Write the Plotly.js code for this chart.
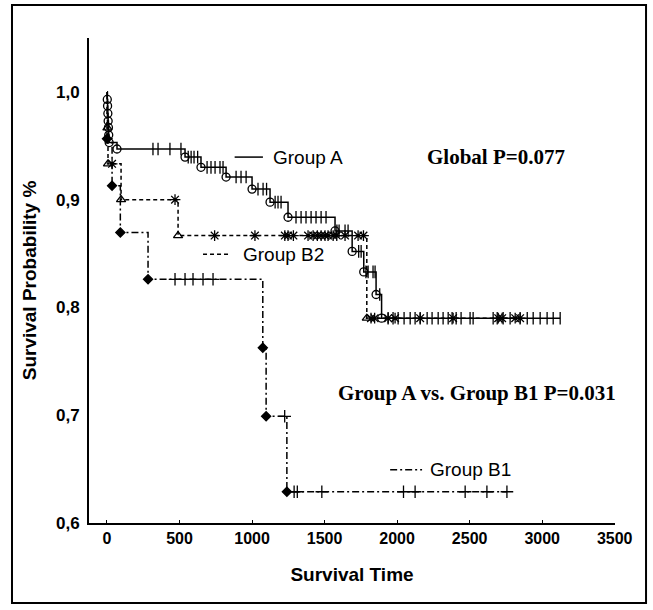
<!DOCTYPE html>
<html>
<head>
<meta charset="utf-8">
<script src="https://cdn.plot.ly/plotly-3.0.1.min.js"></script>
<style>
  html, body { margin: 0; padding: 0; background: #fff; }
  #chart { width: 653px; height: 610px; }
</style>
</head>
<body>
<div id="chart"></div>
<script>
// ---------------- Data ----------------
// Group A: event times / survival after each event, censored times
const groupAEventTimes = [2, 4, 6, 8, 10, 12, 15, 69, 538, 648, 821, 1000, 1124, 1248, 1572, 1690, 1770, 1855, 1893];
const groupAEventSurv  = [0.993, 0.987, 0.980, 0.973, 0.967, 0.960, 0.953, 0.947, 0.9395, 0.930, 0.921, 0.9098, 0.8977, 0.8837, 0.871, 0.852, 0.833, 0.812, 0.790];
const groupACensorTimes = [317, 352, 434, 510, 560, 580, 600, 625, 690, 717, 745, 779, 800, 890, 924, 959,
  1041, 1076, 1100, 1159, 1179, 1200, 1303, 1338, 1372, 1407, 1441, 1476, 1510, 1585, 1600, 1641, 1662,
  1735, 1752, 1785, 1800, 1834, 1848, 1880, 1938, 1972, 2007, 2048, 2090, 2124, 2159, 2207, 2241, 2283,
  2317, 2352, 2379, 2407, 2441, 2503, 2524, 2662, 2690, 2731, 2779, 2848, 2897, 2938, 2986, 3034, 3076, 3124];

// Group B2
const groupB2EventTimes = [3, 7, 97, 490, 1791];
const groupB2EventSurv  = [0.9667, 0.9333, 0.9, 0.8667, 0.79];
const groupB2CensorTimes = [35, 469, 742, 1020, 1226, 1248, 1285, 1386, 1421, 1450, 1476, 1503, 1524, 1559,
  1584, 1641, 1731, 1768, 1820, 1845, 1938, 1986, 2159, 2386, 2697, 2724, 2814, 2848];

// Group B1
const groupB1EventTimes = [0, 35, 92, 283, 1074, 1097, 1240];
const groupB1EventSurv  = [0.9565, 0.913, 0.8696, 0.8261, 0.7626, 0.699, 0.629];
const groupB1CensorTimes = [469, 538, 593, 662, 731, 1225, 1290, 1312, 1481, 2044, 2124, 2469, 2619, 2757];

const xTickVals = [0, 500, 1000, 1500, 2000, 2500, 3000, 3500];
const yTickVals = [0.6, 0.7, 0.8, 0.9, 1.0];

// ---------------- Helpers ----------------
function survAt(t, et, es) {
  let s = 1;
  for (let i = 0; i < et.length; i++) { if (et[i] <= t) s = es[i]; }
  return s;
}
function stepCurve(et, es, ct) {
  const xs = [0], ys = [1];
  for (let i = 0; i < et.length; i++) { xs.push(et[i]); ys.push(es[i]); }
  const tEnd = Math.max(et[et.length - 1], ct[ct.length - 1]);
  xs.push(tEnd); ys.push(es[es.length - 1]);
  return {xs, ys};
}

const groups = [
  {et: groupAEventTimes, es: groupAEventSurv, ct: groupACensorTimes, dash: 'solid',
   ev: 'circle-open', evSize: 8, cs: 'line-ns-open', csSize: 9},
  {et: groupB2EventTimes, es: groupB2EventSurv, ct: groupB2CensorTimes, dash: '4px,3px',
   ev: 'triangle-up-open', evSize: 8, cs: 'asterisk-open', csSize: 9},
  {et: groupB1EventTimes, es: groupB1EventSurv, ct: groupB1CensorTimes, dash: '7px,3px,2px,3px',
   ev: 'diamond', evSize: 7, cs: 'cross-thin-open', csSize: 9}
];

const traces = [];
groups.forEach(g => {
  const c = stepCurve(g.et, g.es, g.ct);
  traces.push({x: c.xs, y: c.ys, mode: 'lines', line: {shape: 'hv', color: '#000', width: 1.5, dash: g.dash},
               hoverinfo: 'skip'});
  traces.push({x: g.et, y: g.es, mode: 'markers',
               marker: {symbol: g.ev, size: g.evSize, color: '#000', line: {color: '#000', width: 1.3}}});
  traces.push({x: g.ct, y: g.ct.map(t => survAt(t, g.et, g.es)), mode: 'markers',
               marker: {symbol: g.cs, size: g.csSize, color: '#000', line: {color: '#000', width: 1.3}}});
});

const sans = 'Liberation Sans, Arial, sans-serif';
const serif = 'Liberation Serif, Times New Roman, serif';

const layout = {
  width: 653, height: 610,
  margin: {l: 89, r: 38, t: 38, b: 87},
  paper_bgcolor: '#fff', plot_bgcolor: '#fff',
  showlegend: false,
  separators: ',.',
  font: {family: sans, color: '#000'},
  xaxis: {
    range: [-124, 3502], tickvals: xTickVals, ticks: 'inside', ticklen: 3, tickwidth: 1, tickcolor: '#000',
    showline: true, linecolor: '#000', linewidth: 2, showgrid: false, zeroline: false,
    tickfont: {family: sans, size: 16, weight: 'bold'}, separatethousands: false,
    title: {text: '<b>Survival Time</b>', font: {family: sans, size: 19}, standoff: 21}
  },
  yaxis: {
    range: [0.6, 1.05], tickvals: yTickVals, tickformat: '.1f', ticks: '',
    showline: true, linecolor: '#000', linewidth: 2, showgrid: false, zeroline: false,
    tickfont: {family: sans, size: 17, weight: 'bold'}, ticklabelstandoff: 4,
    title: {text: '<b>Survival Probability %</b>', font: {family: sans, size: 19}, standoff: 14}
  },
  shapes: [
    {type: 'rect', xref: 'paper', yref: 'paper', x0: -0.1464, x1: 1.059, y0: -0.165, y1: 1.068,
     line: {color: '#000', width: 2}},
    {type: 'line', xref: 'x', yref: 'y', x0: 880, x1: 1075, y0: 0.9395, y1: 0.9395, line: {color: '#000', width: 1.5}},
    {type: 'line', xref: 'x', yref: 'y', x0: 662, x1: 855, y0: 0.8493, y1: 0.8493, line: {color: '#000', width: 1.5, dash: '4px,3px'}},
    {type: 'line', xref: 'x', yref: 'y', x0: 1952, x1: 2172, y0: 0.6493, y1: 0.6493, line: {color: '#000', width: 1.5, dash: '7px,3px,2px,3px'}}
  ],
  annotations: [
    {x: 1131, y: 0.9395, xref: 'x', yref: 'y', text: 'Group A', showarrow: false, xanchor: 'left',
     font: {family: sans, size: 19, color: '#000'}},
    {x: 924, y: 0.8493, xref: 'x', yref: 'y', text: 'Group B2', showarrow: false, xanchor: 'left',
     font: {family: sans, size: 19, color: '#000'}},
    {x: 2214, y: 0.6493, xref: 'x', yref: 'y', text: 'Group B1', showarrow: false, xanchor: 'left',
     font: {family: sans, size: 19, color: '#000'}},
    {x: 2683, y: 0.9395, xref: 'x', yref: 'y', text: '<b>Global P=0.077</b>', showarrow: false, xanchor: 'center',
     font: {family: serif, size: 21, color: '#000'}},
    {x: 2552, y: 0.721, xref: 'x', yref: 'y', text: '<b>Group A vs. Group B1 P=0.031</b>', showarrow: false, xanchor: 'center',
     font: {family: serif, size: 21, color: '#000'}}
  ]
};

Plotly.newPlot('chart', traces, layout, {displayModeBar: false, staticPlot: true});
</script>
</body>
</html>
